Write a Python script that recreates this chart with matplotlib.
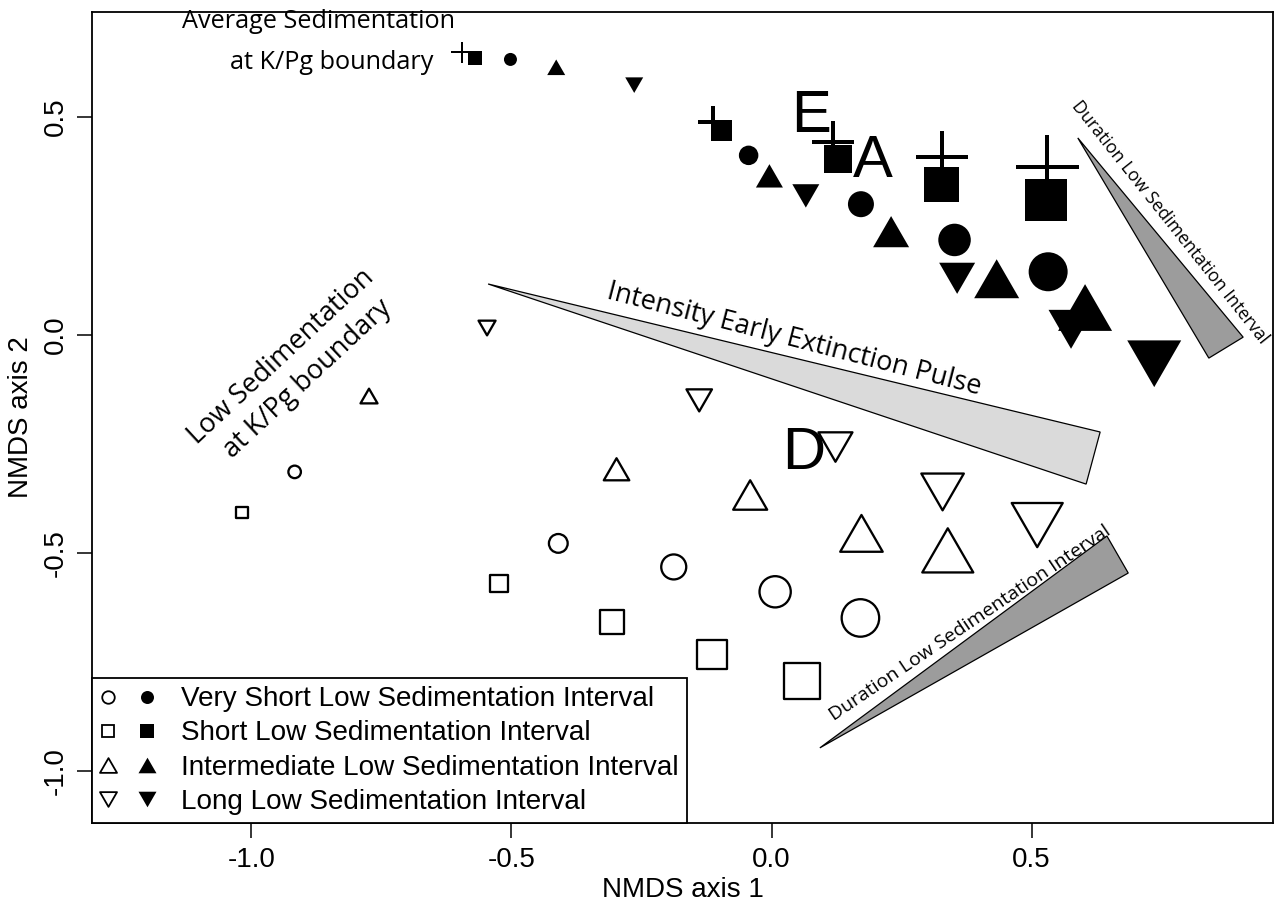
import matplotlib
matplotlib.use('Agg')
import matplotlib.pyplot as plt
from matplotlib.patches import Polygon
from matplotlib.path import Path
from matplotlib.legend_handler import HandlerTuple
from matplotlib.lines import Line2D

# ---------------- data ----------------
cex = [1.0, 1.5, 2.0, 2.5, 3.0]

# average sedimentation at K/Pg boundary (filled symbols)
avg_plus_x = [-0.596, -0.112, 0.118, 0.328, 0.530]
avg_plus_y = [0.648, 0.488, 0.442, 0.408, 0.386]
avg_square_x = [-0.570, -0.097, 0.128, 0.327, 0.527]
avg_square_y = [0.635, 0.469, 0.404, 0.346, 0.310]
avg_circle_x = [-0.502, -0.044, 0.172, 0.352, 0.532]
avg_circle_y = [0.632, 0.412, 0.300, 0.218, 0.145]
avg_up_x = [-0.414, -0.004, 0.230, 0.433, 0.603]
avg_up_y = [0.614, 0.365, 0.237, 0.129, 0.063]
avg_down_x = [-0.264, 0.066, 0.357, 0.576, 0.736]
avg_down_y = [0.573, 0.319, 0.130, 0.013, -0.066]

# low sedimentation at K/Pg boundary (open symbols)
low_circle_x = [-0.917, -0.410, -0.188, 0.007, 0.171]
low_circle_y = [-0.314, -0.478, -0.532, -0.589, -0.649]
low_square_x = [-1.019, -0.524, -0.307, -0.114, 0.059]
low_square_y = [-0.407, -0.570, -0.658, -0.733, -0.794]
low_up_x = [-0.774, -0.298, -0.041, 0.173, 0.339]
low_up_y = [-0.140, -0.308, -0.367, -0.455, -0.494]
low_down_x = [-0.547, -0.139, 0.123, 0.329, 0.511]
low_down_y = [0.016, -0.150, -0.257, -0.360, -0.436]

legend_labels = ["Very Short Low Sedimentation Interval",
                 "Short Low Sedimentation Interval",
                 "Intermediate Low Sedimentation Interval",
                 "Long Low Sedimentation Interval"]

x_ticks = [-1.0, -0.5, 0.0, 0.5]
y_ticks = [-1.0, -0.5, 0.0, 0.5]

letter_labels = ["E", "A", "D"]
letter_x = [0.076, 0.195, 0.061]
letter_y = [0.500, 0.397, -0.271]

wedge_intensity = [(-0.545, 0.117), (0.632, -0.2225), (0.605, -0.342)]
wedge_duration_right = [(0.589, 0.452), (0.907, -0.005), (0.841, -0.053)]
wedge_duration_bottom = [(0.093, -0.947), (0.645, -0.461), (0.686, -0.546)]

# ---------------- style ----------------
PT = 0.72  # points per pixel at dpi 100
AX_FONT = ['Liberation Sans', 'DejaVu Sans']
ANN_FONT = ['Open Sans', 'DejaVu Sans']

TRI_UP = Path([(0, 0.5), (0.5775, -0.5), (-0.5775, -0.5), (0, 0.5)],
              [Path.MOVETO, Path.LINETO, Path.LINETO, Path.CLOSEPOLY])
TRI_DOWN = Path([(0, -0.5), (0.5775, 0.5), (-0.5775, 0.5), (0, -0.5)],
                [Path.MOVETO, Path.LINETO, Path.LINETO, Path.CLOSEPOLY])

fig = plt.figure(figsize=(12.79, 9.10), dpi=100)
ax = fig.add_axes([92/1279, 1-823/910, (1273-92)/1279, (823-12)/910])
ax.set_xlim(-1.3067, 0.9644)
ax.set_ylim(-1.1193, 0.7408)


def sz(base_px):
    return [(base_px * c * PT) ** 2 for c in cex]


# wedges
ax.add_patch(Polygon(wedge_intensity, closed=True, facecolor='#dadada',
                     edgecolor='black', linewidth=0.9, zorder=1))
ax.add_patch(Polygon(wedge_duration_right, closed=True, facecolor='#9c9c9c',
                     edgecolor='black', linewidth=0.9, zorder=1))
ax.add_patch(Polygon(wedge_duration_bottom, closed=True, facecolor='#9c9c9c',
                     edgecolor='black', linewidth=0.9, zorder=1))

# filled symbols
ax.scatter(avg_square_x, avg_square_y, s=sz(14), marker='s', c='black', linewidths=0, zorder=3)
ax.scatter(avg_circle_x, avg_circle_y, s=sz(13), marker='o', c='black', linewidths=0, zorder=3)
ax.scatter(avg_up_x, avg_up_y, s=sz(18), marker=TRI_UP, c='black', linewidths=0, zorder=3)
ax.scatter(avg_down_x, avg_down_y, s=sz(18), marker=TRI_DOWN, c='black', linewidths=0, zorder=3)
ax.scatter(avg_plus_x, avg_plus_y, s=sz(21), marker='+', c='black',
           linewidths=[2*PT, 4*PT, 4*PT, 4*PT, 4*PT], zorder=4)

# open symbols
OPEN_LW = 2.3 * PT
ax.scatter(low_circle_x, low_circle_y, s=sz(12.5), marker='o', facecolors='none',
           edgecolors='black', linewidths=OPEN_LW, zorder=3)
ax.scatter(low_square_x, low_square_y, s=sz(11.8), marker='s', facecolors='none',
           edgecolors='black', linewidths=OPEN_LW, zorder=3)
ax.scatter(low_up_x, low_up_y, s=sz(17), marker=TRI_UP, facecolors='none',
           edgecolors='black', linewidths=OPEN_LW, zorder=3)
ax.scatter(low_down_x, low_down_y, s=sz(17), marker=TRI_DOWN, facecolors='none',
           edgecolors='black', linewidths=OPEN_LW, zorder=3)

# big letters
for lab, lx, ly in zip(letter_labels, letter_x, letter_y):
    ax.text(lx, ly, lab, fontsize=43, family=AX_FONT, ha='center', va='center', zorder=5)

# annotations
ax.text(-0.872, 0.718, "Average Sedimentation", fontsize=18.2, family=ANN_FONT,
        ha='center', va='center')
ax.text(-0.845, 0.624, "at K/Pg boundary", fontsize=18.2, family=ANN_FONT,
        ha='center', va='center')
ax.text(-0.943, -0.050, "Low Sedimentation", fontsize=19.5, family=ANN_FONT,
        ha='center', va='center', rotation=43, rotation_mode='anchor')
ax.text(-0.893, -0.100, "at K/Pg boundary", fontsize=19.5, family=ANN_FONT,
        ha='center', va='center', rotation=43, rotation_mode='anchor')
ax.text(0.043, -0.011, "Intensity Early Extinction Pulse", fontsize=19.5, family=ANN_FONT,
        ha='center', va='center', rotation=-14.5, rotation_mode='anchor')
ax.text(0.766, 0.259, "Duration Low Sedimentation Interval", fontsize=12.8, family=ANN_FONT,
        ha='center', va='center', rotation=-51.5, rotation_mode='anchor')
ax.text(0.382, -0.661, "Duration Low Sedimentation Interval", fontsize=14, family=ANN_FONT,
        ha='center', va='center', rotation=34, rotation_mode='anchor')

# axes styling
for side in ['top', 'right', 'left', 'bottom']:
    ax.spines[side].set_linewidth(1.3)
ax.set_xticks(x_ticks)
ax.set_yticks(y_ticks)
ax.set_xticklabels([f"{v:.1f}" for v in x_ticks], family=AX_FONT, fontsize=20)
ax.set_yticklabels([f"{v:.1f}" for v in y_ticks], family=AX_FONT, fontsize=20,
                   rotation=90, va='center')
ax.tick_params(axis='both', direction='out', length=11, width=1.1, pad=6)
ax.set_xlabel("NMDS axis 1", family=AX_FONT, fontsize=20, labelpad=3)
ax.set_ylabel("NMDS axis 2", family=AX_FONT, fontsize=20, labelpad=6)

# legend
open_markers = ['o', 's', TRI_UP, TRI_DOWN]
open_sizes = [12.5, 11.8, 17, 17]
fill_sizes = [13, 14, 18, 18]
handles = []
for m, so, sf in zip(open_markers, open_sizes, fill_sizes):
    h_open = Line2D([], [], ls='none', marker=m, ms=so*PT, mfc='none', mec='black', mew=1.3)
    h_fill = Line2D([], [], ls='none', marker=m, ms=sf*PT, mfc='black', mec='black', mew=0)
    handles.append((h_open, h_fill))
leg = ax.legend(handles, legend_labels, loc='lower left', bbox_to_anchor=(0, 0),
                borderaxespad=0, handler_map={tuple: HandlerTuple(ndivide=None, pad=0.9)},
                handlelength=1.95, handletextpad=0.95, borderpad=0.3, labelspacing=0.29,
                fancybox=False, framealpha=1, edgecolor='black',
                prop={'family': AX_FONT, 'size': 20.1})
leg.get_frame().set_linewidth(1.3)
leg.set_zorder(6)

fig.savefig('out.png', dpi=100)
